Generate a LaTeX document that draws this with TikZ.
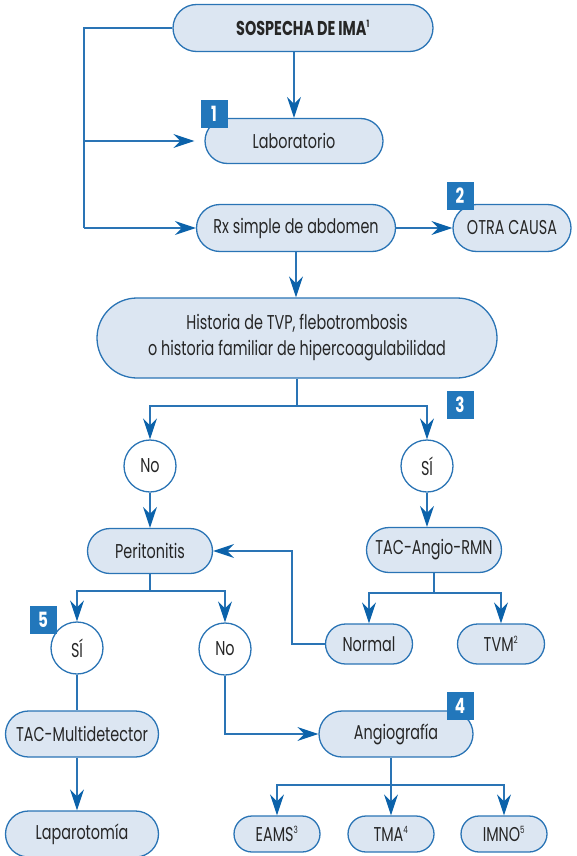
\documentclass[tikz,border=0pt]{standalone}
\usepackage{fontspec}
\setmainfont{Poppins}[FakeStretch=0.72]
\usetikzlibrary{shapes.misc,arrows.meta}
\definecolor{fillb}{HTML}{DCE6F2}
\definecolor{lineb}{HTML}{2A74B5}
\definecolor{arrb}{HTML}{0B62AA}
\definecolor{badgeb}{HTML}{2277BB}
\definecolor{txt}{HTML}{262626}
\newcommand{\sups}[1]{\textsuperscript{\fontsize{10}{10}\selectfont #1}}
\tikzset{
  pill/.style={rounded rectangle, draw=lineb, line width=1.3pt, fill=fillb, text=txt, inner sep=0pt, font=\fontsize{20}{26}\selectfont, align=center},
  circ/.style={circle, draw=lineb, line width=1.3pt, fill=white, minimum size=52pt, inner sep=0pt, text=txt, font=\fontsize{20}{22}\selectfont},
  badge/.style={fill=badgeb, text=white, minimum width=27pt, minimum height=28pt, inner sep=0pt, font=\bfseries\fontsize{21}{21}\selectfont},
  conn/.style={draw=lineb, line width=1.3pt},
  arr/.style={conn, -{Stealth[length=21pt,width=14pt,inset=7pt,color=arrb]}}
}
\begin{document}
\begin{tikzpicture}[x=1pt,y=-1pt]
\useasboundingbox (0,0) rectangle (576,856);
% boxes
\node[pill, minimum width=260pt, minimum height=47pt, font=\bfseries\fontsize{20}{22}\selectfont] (sosp) at (303,28) {SOSPECHA DE IMA\sups{1}};
\node[pill, minimum width=178pt, minimum height=45pt] (lab) at (294,141) {Laboratorio};
\node[pill, minimum width=199pt, minimum height=47pt] (rx) at (296,228) {Rx simple de abdomen};
\node[pill, minimum width=118pt, minimum height=47pt] (otra) at (512,228) {OTRA CAUSA};
\node[pill, minimum width=400pt, minimum height=80pt] (hist) at (297,338) {Historia de TVP, flebotrombosis\\o historia familiar de hipercoagulabilidad};
\node[circ] (no1) at (150,466) {No};
\node[circ] (si1) at (427,466) {SÍ};
\node[pill, minimum width=125pt, minimum height=45pt] (perit) at (150,551) {Peritonitis};
\node[pill, minimum width=135pt, minimum height=45pt] (tacang) at (434,550) {TAC-Angio-RMN};
\node[pill, minimum width=87pt, minimum height=40pt] (normal) at (369,644) {Normal};
\node[pill, minimum width=87pt, minimum height=40pt] (tvm) at (501,644) {TVM\sups{2}};
\node[circ] (si2) at (77,648) {SÍ};
\node[circ] (no2) at (225,649) {No};
\node[pill, minimum width=153pt, minimum height=46pt] (tacm) at (82,734) {TAC-Multidetector};
\node[pill, minimum width=153pt, minimum height=46pt] (lap) at (82,834) {Laparotomía};
\node[pill, minimum width=154pt, minimum height=46pt] (angio) at (396,734) {Angiografía};
\node[pill, minimum width=86pt, minimum height=36pt] (eams) at (277,834) {EAMS\sups{3}};
\node[pill, minimum width=86pt, minimum height=36pt] (tma) at (391,834) {TMA\sups{4}};
\node[pill, minimum width=86pt, minimum height=36pt] (imno) at (504,834) {IMNO\sups{5}};
% connectors
\coordinate (L) at (84,228);
\draw[conn] (sosp.west) -| (L);
\draw[arr, shorten >=10pt] (L |- lab) -- (lab.west);
\draw[arr] (L) -- (rx.west);
\draw[arr] (sosp.south -| lab) -- (lab.north);
\draw[arr] (rx.east) -- (otra.west);
\draw[arr] (rx.south) -- (rx.south |- hist.north);
\coordinate (hb) at (297,406);
\draw[conn] (hist.south) -- (hb);
\draw[arr] (hb) -| (no1.north);
\draw[arr] (hb) -| (si1.north);
\draw[arr] (no1.south) -- (no1.south |- perit.north);
\draw[arr] (si1.south) -- (si1.south |- tacang.north);
\coordinate (tb) at (434,593);
\draw[conn] (tacang.south) -- (tb);
\draw[arr] (tb) -| (normal.north);
\draw[arr] (tb) -| (tvm.north);
\draw[arr] (normal.west) -- ++(-33,0) |- (perit.east);
\coordinate (pb) at (150,591);
\draw[conn] (perit.south) -- (pb);
\draw[arr] (pb) -| (si2.north);
\draw[arr] (pb) -| (no2.north);
\draw[conn] (si2.south) -- (si2.south |- tacm.north);
\draw[arr] (tacm.south -| si2) -- (lap.north -| si2);
\draw[arr] (no2.south) |- (angio.west);
\coordinate (ab) at (391,785);
\draw[conn] (angio.south -| ab) -- (ab);
\draw[arr] (ab) -| (eams.north);
\draw[arr] (ab) -- (tma.north);
\draw[arr] (ab) -| (imno.north);
% badges
\node[badge] (b1) at (214,114) {1};
\node[badge] (b2) at (460,196) {2};
\node[badge] (b3) at (460,405) {3};
\node[badge] (b4) at (460,706) {4};
\node[badge] (b5) at (43,620) {5};
\end{tikzpicture}
\end{document}
